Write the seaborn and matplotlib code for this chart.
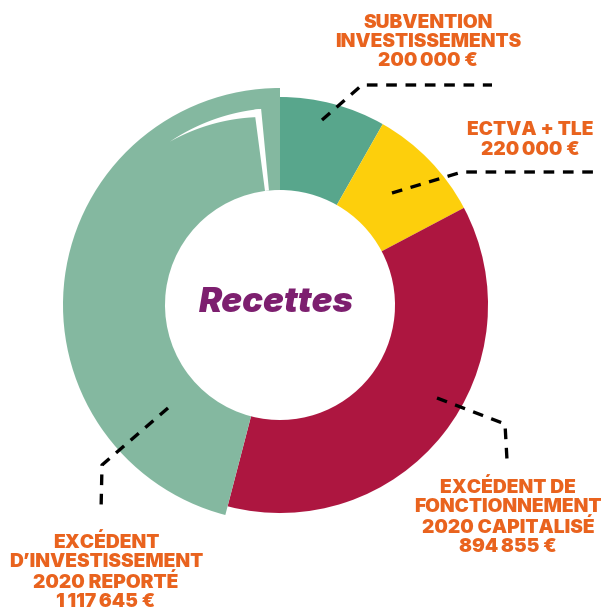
import numpy as np
import matplotlib.pyplot as plt
import seaborn as sns
from matplotlib.patches import Wedge

# data
categories = ['SUBVENTION\nINVESTISSEMENTS', 'ECTVA + TLE',
              'EXCÉDENT DE\nFONCTIONNEMENT\n2020 CAPITALISÉ',
              'EXCÉDENT\nD\u2019INVESTISSEMENT\n2020 REPORTÉ']
amounts = [200000, 220000, 894855, 1117645]
amount_labels = ['200\u202f000 €', '220\u202f000 €', '894\u202f855 €', '1\u202f117\u202f645 €']
colors = ['#58a68c', '#fdcf0c', '#ad1640', '#84b8a0']

sns.set_theme(style='white')
plt.rcParams['font.family'] = ['Inter', 'DejaVu Sans']

fig = plt.figure(figsize=(6.04, 6.11), dpi=100)
ax = fig.add_axes([0, 0, 1, 1])

cx, cy = 280, 306
r_out, r_in = 208, 115
wedges, _ = ax.pie(amounts, colors=colors, startangle=90, counterclock=False,
                   radius=r_out, center=(cx, cy), frame=True,
                   wedgeprops=dict(width=r_out - r_in, linewidth=0))
ax.set_xlim(0, 604)
ax.set_ylim(0, 611)
ax.set_aspect('equal')
ax.axis('off')

# the last slice sticks out a bit
wedges[3].set_radius(217)
wedges[3].set_width(217 - r_in)

# white cut in the big slice near the top
ax.add_patch(Wedge((cx, cy), 197, 95.5, 97.5, width=197 - r_in, color='white', lw=0))
th = np.radians(np.linspace(96, 124, 60))
r_top = 197
r_bot = 197 - 8 * (1 - (np.degrees(th) - 96) / 28)
xs = np.concatenate([cx + r_top * np.cos(th), cx + r_bot[::-1] * np.cos(th[::-1])])
ys = np.concatenate([cy + r_top * np.sin(th), cy + r_bot[::-1] * np.sin(th[::-1])])
ax.fill(xs, ys, color='white', lw=0)

# center title
ax.text(cx - 4, cy + 2, 'Recettes', ha='center', va='center', fontsize=25,
        fontweight='black', fontstyle='italic', color='#7d1f6f')

# leader lines
dash = dict(color='black', lw=2.4, linestyle=(0, (3.2, 2.6)), solid_capstyle='butt')
leaders = [
    ([322, 362, 492], [611 - 120, 611 - 85, 611 - 85]),
    ([392, 462, 595], [611 - 193, 611 - 172, 611 - 172]),
    ([437, 505, 507], [611 - 398, 611 - 424, 611 - 460]),
    ([168, 102, 101], [611 - 408, 611 - 465, 611 - 512]),
]
for lx, ly in leaders:
    ax.plot(lx, ly, **dash)

# labels
label_pos = [(428, 611 - 42), (530, 611 - 140), (508, 611 - 517), (106, 611 - 572)]
for cat, amt, (tx, ty) in zip(categories, amount_labels, label_pos):
    ax.text(tx, ty, cat + '\n' + amt, ha='center', va='center', fontsize=13.8,
            fontweight='black', color='#e9631e', linespacing=1.08)

plt.savefig('out.png', dpi=100)
